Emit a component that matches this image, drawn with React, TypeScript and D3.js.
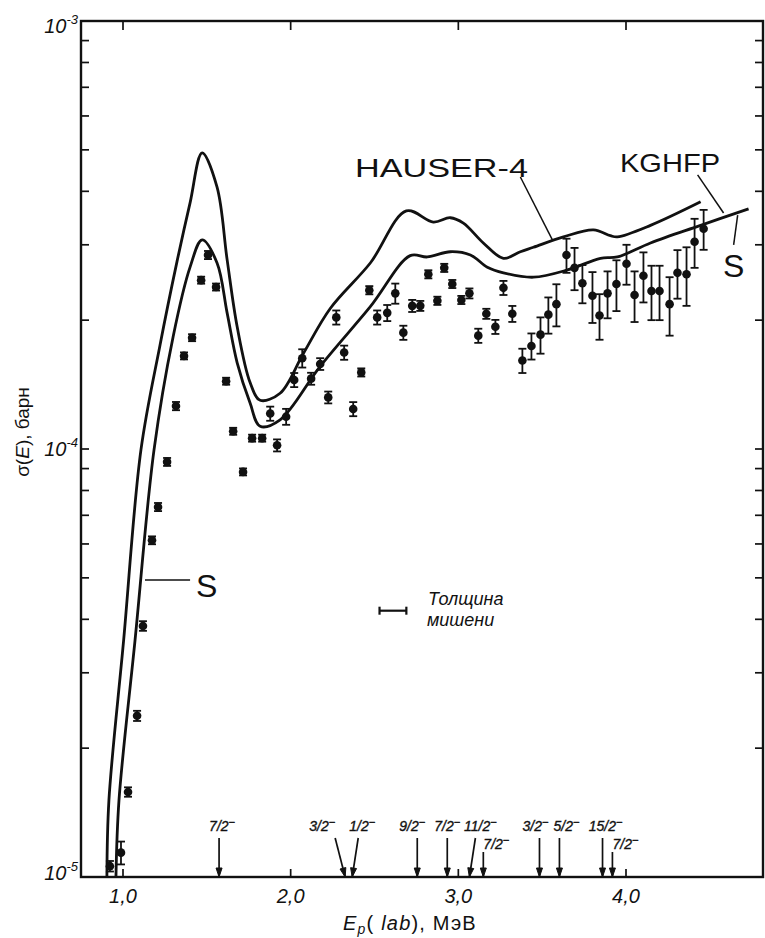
import React from "react";
import * as d3 from "d3";

// HAUSER-4 calculation (E in MeV, sigma in barn)
const hauserE = [0.904, 0.916, 1.004, 1.107, 1.221, 1.322, 1.4, 1.472, 1.561, 1.621, 1.681, 1.758, 1.818, 1.937, 2.075, 2.236, 2.475, 2.69, 2.851, 2.952, 3.03, 3.149, 3.269, 3.37, 3.448, 3.627, 3.806, 3.907, 3.949, 4.146, 4.445];
const hauserSigma = [1.0e-5, 1.51e-5, 3.58e-5, 9.95e-5, 1.75e-4, 2.74e-4, 3.76e-4, 4.92e-4, 4.09e-4, 2.77e-4, 1.93e-4, 1.43e-4, 1.3e-4, 1.35e-4, 1.67e-4, 2.13e-4, 2.72e-4, 3.6e-4, 3.39e-4, 3.47e-4, 3.37e-4, 3.03e-4, 2.79e-4, 2.89e-4, 2.96e-4, 3.13e-4, 3.25e-4, 3.15e-4, 3.13e-4, 3.33e-4, 3.78e-4];

// KGHFP / S calculation
const kghfpE = [0.958, 0.976, 1.072, 1.185, 1.299, 1.4, 1.472, 1.561, 1.621, 1.681, 1.758, 1.818, 1.937, 2.176, 2.475, 2.713, 2.815, 2.952, 3.072, 3.173, 3.269, 3.448, 3.651, 3.848, 3.949, 4.146, 4.445, 4.731];
const kghfpSigma = [1.0e-5, 1.51e-5, 3.58e-5, 9.95e-5, 1.83e-4, 2.66e-4, 3.08e-4, 2.72e-4, 2.08e-4, 1.59e-4, 1.28e-4, 1.13e-4, 1.17e-4, 1.56e-4, 2.15e-4, 2.83e-4, 2.81e-4, 2.89e-4, 2.84e-4, 2.66e-4, 2.58e-4, 2.52e-4, 2.62e-4, 2.79e-4, 2.81e-4, 3.03e-4, 3.33e-4, 3.64e-4];

// Experimental points: sigma and error in units of 1e-5 barn
const SIGMA_UNIT = 1e-5;
const expE = [0.922, 0.988, 1.03, 1.084, 1.119, 1.173, 1.209, 1.263, 1.316, 1.364, 1.412, 1.466, 1.507, 1.555, 1.615, 1.657, 1.716, 1.77, 1.83, 1.878, 1.919, 1.973, 2.021, 2.069, 2.122, 2.176, 2.224, 2.272, 2.319, 2.373, 2.421, 2.469, 2.516, 2.576, 2.624, 2.672, 2.725, 2.773, 2.821, 2.875, 2.916, 2.964, 3.018, 3.066, 3.119, 3.167, 3.221, 3.269, 3.322, 3.382, 3.436, 3.49, 3.537, 3.585, 3.645, 3.693, 3.74, 3.8, 3.842, 3.89, 3.943, 4.003, 4.051, 4.104, 4.152, 4.2, 4.26, 4.307, 4.361, 4.409, 4.463];
const expSigma = [1.06, 1.14, 1.58, 2.38, 3.86, 6.12, 7.32, 9.33, 12.6, 16.5, 18.2, 24.8, 28.4, 23.9, 14.4, 11.0, 8.84, 10.6, 10.6, 12.1, 10.2, 11.9, 14.5, 16.3, 14.6, 15.8, 13.2, 20.3, 16.8, 12.4, 15.1, 23.5, 20.3, 20.8, 23.1, 18.7, 21.6, 21.6, 25.6, 22.2, 26.5, 24.3, 22.3, 23.1, 18.4, 20.7, 19.3, 23.8, 20.7, 16.1, 17.4, 18.5, 20.6, 21.8, 28.4, 26.5, 24.4, 22.8, 20.5, 23.1, 24.3, 27.1, 22.9, 25.4, 23.4, 23.4, 21.8, 25.8, 25.6, 30.5, 32.7];
const expErr = [0.03, 0.07, 0.04, 0.065, 0.1, 0.13, 0.16, 0.2, 0.28, 0.27, 0.3, 0.4, 0.62, 0.38, 0.23, 0.18, 0.14, 0.17, 0.17, 0.46, 0.33, 0.51, 0.55, 0.8, 0.47, 0.5, 0.42, 0.77, 0.64, 0.47, 0.33, 0.52, 0.77, 0.9, 1.25, 0.71, 0.7, 0.58, 0.56, 0.49, 0.58, 0.53, 0.49, 0.62, 0.7, 0.56, 0.73, 0.9, 0.89, 1.05, 1.22, 1.8, 2.0, 2.46, 2.6, 3.0, 2.5, 3.1, 2.5, 2.9, 3.3, 2.9, 3.1, 3.4, 3.4, 3.4, 3.4, 3.35, 4.0, 4.0, 3.5];

// Resonance levels (arrows at bottom)
const levelE = [1.573, 2.325, 2.367, 2.755, 2.934, 3.066, 3.149, 3.484, 3.603, 3.86, 3.919];
const levelJ = ["7/2", "3/2", "1/2", "9/2", "7/2", "11/2", "7/2", "3/2", "5/2", "15/2", "7/2"];

// Axis ticks
const xTickValues = [1, 2, 3, 4];
const xTickLabels = ["1,0", "2,0", "3,0", "4,0"];
const yDecades = [1e-3, 1e-4, 1e-5];
const yDecadeExp = ["-3", "-4", "-5"];

// Target thickness bar (MeV)
const thicknessE = [2.53, 2.69];
const thicknessSigma = 4.19e-5;

// layout only
const levelLabelDx = [3, -23, 10, -5, 0, 11, 13, -4, 7, 3, 13];
const levelRow = [0, 0, 0, 0, 0, 0, 1, 0, 0, 0, 1];
const levelTopDx = [0, -10, 6, 0, 0, 6, 0, 0, 0, 0, 0];
const yLabelDy = [12, 7, 3];

const FONT = "'Liberation Sans', Arial, sans-serif";

export default function App() {
  const L = 81, R = 763, T = 21, B = 877;
  const x = d3.scaleLinear().domain([1, 4]).range([123, 626]);
  const y = d3.scaleLog().domain([1e-5, 1e-3]).range([B, T]);

  const line = d3
    .line<[number, number]>()
    .x((d) => x(d[0]))
    .y((d) => y(d[1]))
    .curve(d3.curveCatmullRom.alpha(0.5));

  const hauser = line(hauserE.map((e, i) => [e, hauserSigma[i]] as [number, number])) || "";
  const kghfp = line(kghfpE.map((e, i) => [e, kghfpSigma[i]] as [number, number])) || "";

  const minor = y.ticks();

  const stroke = "#111";

  return (
    <svg
      width={765}
      height={938}
      style={{ position: "absolute", left: 0, top: 0, background: "#fff" }}
      fontFamily={FONT}
    >
      <rect x={0} y={0} width={765} height={938} fill="#fff" />
      <defs>
        <clipPath id="plot">
          <rect x={L} y={T} width={R - L} height={B - T} />
        </clipPath>
      </defs>

      {/* frame */}
      <rect x={L} y={T} width={R - L} height={B - T} fill="none" stroke={stroke} strokeWidth={2.4} />

      {/* y minor/major ticks (inward both sides) */}
      {minor.map((v, i) => (
        <g key={"yt" + i}>
          <line x1={L} x2={L + 8} y1={y(v)} y2={y(v)} stroke={stroke} strokeWidth={1.7} />
          <line x1={R} x2={R - 8} y1={y(v)} y2={y(v)} stroke={stroke} strokeWidth={1.7} />
        </g>
      ))}

      {/* x ticks */}
      {xTickValues.map((v, i) => (
        <g key={"xt" + i}>
          <line x1={x(v)} x2={x(v)} y1={B} y2={B - 8} stroke={stroke} strokeWidth={1.7} />
          <line x1={x(v)} x2={x(v)} y1={T} y2={T + 9} stroke={stroke} strokeWidth={1.7} />
          <text x={x(v)} y={903} textAnchor="middle" fontSize={20} fontStyle="italic" fill={stroke}>
            {xTickLabels[i]}
          </text>
        </g>
      ))}

      {/* y decade labels */}
      {yDecades.map((v, i) => (
        <text key={"yl" + i} x={L - 3} y={y(v) + yLabelDy[i]} textAnchor="end" fontSize={20} fontStyle="italic" fill={stroke}>
          10
          <tspan fontSize={13} dy={-9}>{yDecadeExp[i]}</tspan>
        </text>
      ))}

      {/* axis titles */}
      <text x={343} y={930} fontSize={20} fill={stroke} letterSpacing={1.2}>
        <tspan fontStyle="italic">E</tspan>
        <tspan fontStyle="italic" fontSize={14} dy={4}>p</tspan>
        <tspan dy={-4}>{"( "}</tspan>
        <tspan fontStyle="italic">lab</tspan>
        <tspan>{"),  МэВ"}</tspan>
      </text>
      <text
        transform="translate(29,432) rotate(-90)"
        textAnchor="middle"
        fontSize={19}
        fill={stroke}
      >
        <tspan>σ(</tspan>
        <tspan fontStyle="italic">E</tspan>
        <tspan>{"),  барн"}</tspan>
      </text>

      {/* curves */}
      <g clipPath="url(#plot)" fill="none" stroke={stroke} strokeWidth={2.8} strokeLinejoin="round">
        <path d={hauser} />
        <path d={kghfp} />
      </g>

      {/* experimental points */}
      <g stroke={stroke} fill={stroke}>
        {expE.map((e, i) => {
          const s = expSigma[i] * SIGMA_UNIT;
          const d = expErr[i] * SIGMA_UNIT;
          const cx = x(e);
          const cy = y(s);
          const yHi = Math.min(y(s + d), cy - 3.5);
          const yLo = Math.max(y(Math.max(s - d, 1e-7)), cy + 3.5);
          return (
            <g key={"p" + i}>
              <line x1={cx} x2={cx} y1={yHi} y2={yLo} strokeWidth={1.8} />
              <line x1={cx - 4} x2={cx + 4} y1={yHi} y2={yHi} strokeWidth={1.8} />
              <line x1={cx - 4} x2={cx + 4} y1={yLo} y2={yLo} strokeWidth={1.8} />
              <circle cx={cx} cy={cy} r={4.3} stroke="none" />
            </g>
          );
        })}
      </g>

      {/* level arrows */}
      {levelE.map((e, i) => {
        const tipX = x(e);
        const tipY = B;
        const topY = levelRow[i] === 0 ? 838 : 852;
        const topX = tipX + levelTopDx[i];
        const dx = tipX - topX;
        const dy = tipY - topY;
        const len = Math.hypot(dx, dy);
        const ux = dx / len, uy = dy / len;
        const px = -uy, py = ux;
        const hl = 9, hw = 3;
        const bx = tipX - ux * hl, by = tipY - uy * hl;
        const labelY = levelRow[i] === 0 ? 831 : 849;
        return (
          <g key={"lv" + i}>
            <line x1={topX} y1={topY} x2={tipX} y2={tipY} stroke={stroke} strokeWidth={1.7} />
            <path
              d={`M${bx + px * hw},${by + py * hw} L${tipX},${tipY} L${bx - px * hw},${by - py * hw} Z`}
              fill={stroke}
              stroke={stroke}
              strokeWidth={1}
            />
            <text x={tipX + levelLabelDx[i]} y={labelY} textAnchor="middle" fontSize={14} fontStyle="italic" fill={stroke} stroke={stroke} strokeWidth={0.35}>
              {levelJ[i]}
              <tspan fontSize={11} dy={-5}>−</tspan>
            </text>
          </g>
        );
      })}

      {/* annotations */}
      <text x={355} y={177} fontSize={26} textLength={173} lengthAdjust="spacingAndGlyphs" fill={stroke}>HAUSER-4</text>
      <line x1={x(3.37)} y1={y(4.32e-4)} x2={x(3.561)} y2={y(3.08e-4)} stroke={stroke} strokeWidth={1.5} />
      <text x={620} y={172} fontSize={26} textLength={100} lengthAdjust="spacingAndGlyphs" fill={stroke}>KGHFP</text>
      <line x1={x(4.427)} y1={y(4.37e-4)} x2={x(4.582)} y2={y(3.56e-4)} stroke={stroke} strokeWidth={1.5} />
      <text x={723} y={277} fontSize={32} fill={stroke}>S</text>
      <line x1={x(4.642)} y1={y(3.0e-4)} x2={x(4.666)} y2={y(3.52e-4)} stroke={stroke} strokeWidth={1.5} />
      <text x={196} y={597} fontSize={32} fill={stroke}>S</text>
      <line x1={x(1.131)} y1={y(4.94e-5)} x2={x(1.4)} y2={y(4.94e-5)} stroke={stroke} strokeWidth={1.5} />

      {/* target thickness */}
      <g stroke={stroke} strokeWidth={2.2}>
        <line x1={x(thicknessE[0])} x2={x(thicknessE[1])} y1={y(thicknessSigma)} y2={y(thicknessSigma)} />
        <line x1={x(thicknessE[0])} x2={x(thicknessE[0])} y1={y(thicknessSigma) - 4} y2={y(thicknessSigma) + 4} />
        <line x1={x(thicknessE[1])} x2={x(thicknessE[1])} y1={y(thicknessSigma) - 4} y2={y(thicknessSigma) + 4} />
      </g>
      <text x={428} y={605} fontSize={18} fontStyle="italic" fill={stroke}>Толщина</text>
      <text x={427} y={626} fontSize={18} fontStyle="italic" fill={stroke}>мишени</text>
    </svg>
  );
}
